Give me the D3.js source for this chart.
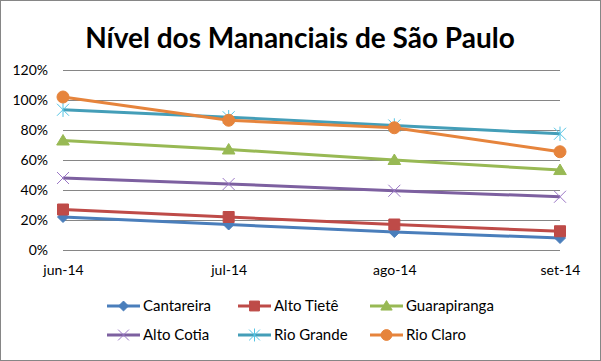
<!DOCTYPE html>
<html>
<head>
<meta charset="utf-8">
<script src="https://cdn.jsdelivr.net/npm/d3@7"></script>
<style>
  body { margin: 0; background: #fff; }
  text { font-family: Lato, "Open Sans", sans-serif; }
</style>
</head>
<body>
<svg id="chart" width="601" height="361"></svg>
<script>
// months on the x axis
var months = ["jun-14", "jul-14", "ago-14", "set-14"];
var yTicks = [0, 0.2, 0.4, 0.6, 0.8, 1.0, 1.2];

// reservoir levels (fraction of capacity)
var cantareira   = [0.22, 0.17, 0.12, 0.08];
var altoTiete    = [0.27, 0.22, 0.17, 0.125];
var guarapiranga = [0.73, 0.67, 0.60, 0.533];
var altoCotia    = [0.48, 0.44, 0.395, 0.355];
var rioGrande    = [0.935, 0.885, 0.83, 0.775];
var rioClaro     = [1.02, 0.865, 0.815, 0.655];

var seriesNames = ["Cantareira", "Alto Tietê", "Guarapiranga", "Alto Cotia", "Rio Grande", "Rio Claro"];
var seriesValues = [cantareira, altoTiete, guarapiranga, altoCotia, rioGrande, rioClaro];
var colors = ["#4A7EBB", "#BE4B48", "#98B954", "#7D60A0", "#449EB8", "#E6843C"];
var markers = ["diamond", "square", "triangle", "times", "star", "circle"];

var svg = d3.select("#chart");
var W = 601, H = 361;

svg.append("rect")
  .attr("x", 0.5).attr("y", 0.5)
  .attr("width", W - 1).attr("height", H - 1)
  .attr("fill", "#fff").attr("stroke", "#868686");

svg.append("text")
  .attr("x", 300).attr("y", 48)
  .attr("text-anchor", "middle")
  .attr("font-size", 28).attr("font-weight", "bold")
  .text("Nível dos Mananciais de São Paulo");

var x = d3.scalePoint().domain(months).range([63, 560]);
var y = d3.scaleLinear().domain([0, 1.2]).range([250, 70]);

// gridlines + y labels
var yAxis = svg.append("g")
  .attr("transform", "translate(63,0)")
  .call(d3.axisLeft(y).tickValues(yTicks).tickSize(-497).tickPadding(15)
    .tickFormat(d3.format(".0%")));
yAxis.select(".domain").remove();
yAxis.selectAll("line").attr("stroke", "#868686");
yAxis.selectAll("text").attr("font-size", 14).attr("fill", "#000")
  .attr("font-family", "Lato, sans-serif");

var xAxis = svg.append("g")
  .attr("transform", "translate(0,250)")
  .call(d3.axisBottom(x).tickSize(0).tickPadding(15));
xAxis.select(".domain").remove();
xAxis.selectAll("text").attr("font-size", 14).attr("fill", "#000")
  .attr("font-family", "Lato, sans-serif");

function markerPath(type, s) {
  var p = d3.path();
  if (type == "diamond") {
    p.moveTo(0, -s); p.lineTo(s, 0); p.lineTo(0, s); p.lineTo(-s, 0); p.closePath();
  } else if (type == "square") {
    p.rect(-s, -s, 2 * s, 2 * s);
  } else if (type == "triangle") {
    p.moveTo(0, -s); p.lineTo(s * 1.05, s * 0.75); p.lineTo(-s * 1.05, s * 0.75); p.closePath();
  } else if (type == "circle") {
    p.arc(0, 0, s, 0, 2 * Math.PI);
  } else if (type == "times") {
    p.moveTo(-s, -s); p.lineTo(s, s); p.moveTo(-s, s); p.lineTo(s, -s);
  } else if (type == "star") {
    p.moveTo(-s, -s); p.lineTo(s, s); p.moveTo(-s, s); p.lineTo(s, -s);
    p.moveTo(0, -s * 1.2); p.lineTo(0, s * 1.2);
  }
  return p.toString();
}
var markerSize = { diamond: 5.5, square: 5.5, triangle: 6, circle: 6, times: 6, star: 6 };

function drawMarker(g, type, color, cx, cy, scale) {
  var s = markerSize[type] * scale;
  var stroked = (type == "times" || type == "star");
  g.append("path")
    .attr("transform", "translate(" + cx + "," + cy + ")")
    .attr("d", markerPath(type, s))
    .attr("fill", stroked ? "none" : color)
    .attr("stroke", stroked ? d3.color(color).brighter(0.6) : color)
    .attr("stroke-width", 1);
}

var line = d3.line()
  .x(function(d, i) { return x(months[i]); })
  .y(function(d) { return y(d); });

var plot = svg.append("g");
seriesValues.forEach(function(vals, k) {
  var g = plot.append("g");
  g.append("path")
    .attr("d", line(vals))
    .attr("fill", "none")
    .attr("stroke", colors[k])
    .attr("stroke-width", 3)
    .attr("stroke-linejoin", "round");
  vals.forEach(function(v, i) {
    drawMarker(g, markers[k], colors[k], x(months[i]), y(v), 1);
  });
});

// legend
var legX = [107, 238, 370];
var legY = [306, 335];
var legend = svg.append("g");
seriesNames.forEach(function(name, k) {
  var lx = legX[k % 3], ly = legY[Math.floor(k / 3)];
  var g = legend.append("g");
  g.append("line")
    .attr("x1", lx).attr("x2", lx + 33)
    .attr("y1", ly).attr("y2", ly)
    .attr("stroke", colors[k]).attr("stroke-width", 3);
  drawMarker(g, markers[k], colors[k], lx + 16.5, ly, 0.9);
  g.append("text")
    .attr("x", lx + 36).attr("y", ly + 5)
    .attr("font-size", 15)
    .text(name);
});
</script>
</body>
</html>
